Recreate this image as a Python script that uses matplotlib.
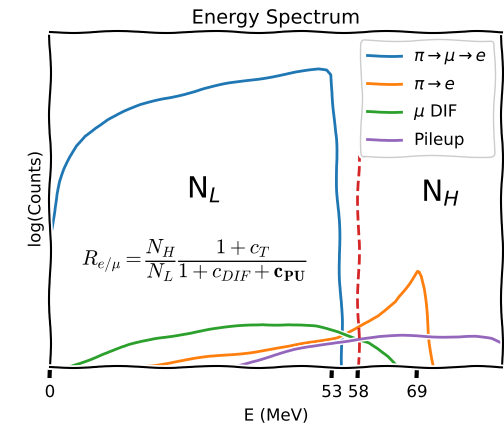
import numpy as np
import matplotlib
matplotlib.use("Agg")
import matplotlib.pyplot as plt

# curves (x in MeV, y in arbitrary log-count units)
blue_x = [0, 0.2, 0.5, 0.9, 1.4, 2.0, 2.8, 3.8, 5.0, 6.5, 8.5, 11, 14, 17, 21, 25, 29, 33, 37, 41, 45, 48, 50.5, 52, 52.8, 53.2, 53.6, 53.9, 54.3, 54.7, 55.0]
blue_y = [0.38, 0.40, 0.44, 0.48, 0.52, 0.555, 0.59, 0.625, 0.66, 0.69, 0.715, 0.74, 0.762, 0.78, 0.80, 0.815, 0.83, 0.843, 0.855, 0.866, 0.876, 0.882, 0.887, 0.885, 0.872, 0.82, 0.72, 0.62, 0.42, 0.22, 0.0]

orange_x = [15, 20, 25, 30, 35, 40, 45, 50, 54, 58, 60, 61.8, 63, 64, 65, 65.6, 66.5, 67.5, 68.3, 69, 69.5, 69.9, 70.3, 70.8, 71.3, 71.8, 72.2]
orange_y = [0.0, 0.008, 0.018, 0.03, 0.04, 0.05, 0.06, 0.075, 0.09, 0.12, 0.135, 0.15, 0.165, 0.18, 0.195, 0.21, 0.228, 0.25, 0.27, 0.287, 0.285, 0.27, 0.23, 0.16, 0.09, 0.04, 0.0]

green_x = [3.5, 6, 10, 15, 20, 25, 30, 35, 40, 45, 50, 54, 57, 60, 61.8, 63.5, 65.2]
green_y = [0.0, 0.015, 0.04, 0.065, 0.085, 0.1, 0.112, 0.12, 0.128, 0.128, 0.12, 0.105, 0.09, 0.075, 0.054, 0.03, 0.0]

purple_x = [34.5, 38, 42, 46, 50, 54, 58, 62, 66, 70, 75, 80, 83, 85]
purple_y = [0.0, 0.018, 0.035, 0.05, 0.062, 0.075, 0.085, 0.09, 0.092, 0.092, 0.092, 0.09, 0.083, 0.07]

labels = [r'$\pi \rightarrow \mu \rightarrow e$', r'$\pi \rightarrow e$', r'$\mu$ DIF', 'Pileup']
xtick_vals = [0, 53, 58, 69]
cut_energy = 58

plt.xkcd()
plt.rcParams['font.family'] = ['DejaVu Sans']

fig = plt.figure(figsize=(5.04, 4.27), dpi=100)
ax = fig.add_axes([0.099, 0.138, 0.897, 0.785])

ax.plot(blue_x, blue_y, color='tab:blue', lw=2, label=labels[0])
ax.plot(orange_x, orange_y, color='tab:orange', lw=2, label=labels[1])
ax.plot(green_x, green_y, color='tab:green', lw=2, label=labels[2])
ax.plot(purple_x, purple_y, color='tab:purple', lw=2, label=labels[3])
ax.vlines(cut_energy, 0, 0.66, colors='tab:red', linestyles='--', lw=2)

ax.text(29, 0.53, r'N$_L$', fontsize=21, ha='center', va='center')
ax.text(73.5, 0.52, r'N$_H$', fontsize=21, ha='center', va='center')
ax.text(6.0, 0.32, r'$R_{e/\mu} = \dfrac{N_H}{N_L}\dfrac{1+c_T}{1+c_{DIF}+\mathbf{c_{PU}}}$',
        fontsize=15, ha='left', va='center', math_fontfamily='cm')

ax.set_xlim(0, 85)
ax.set_ylim(0, 1)
ax.set_xticks(xtick_vals)
ax.set_yticks([])
ax.tick_params(axis='x', labelsize=12)
ax.set_xlabel('E (MeV)', fontsize=12)
ax.set_ylabel('log(Counts)', fontsize=12)
ax.set_title('Energy Spectrum', fontsize=14)
ax.legend(loc='upper right', fontsize=12, framealpha=1)

fig.savefig('out.png', dpi=100)
